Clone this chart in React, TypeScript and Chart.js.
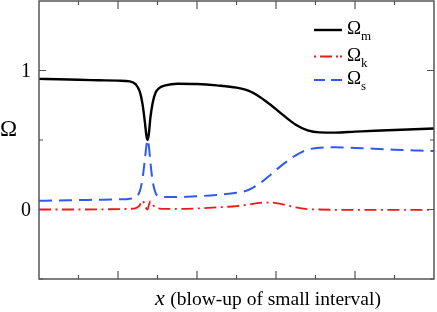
import React, { useEffect, useRef } from "react";
import { Chart, registerables } from "chart.js";

Chart.register(...registerables);

const xs = [0, 0.5, 1, 1.5, 2, 2.3, 2.45, 2.55, 2.62, 2.68, 2.72, 2.75, 2.78, 2.82, 2.88, 2.95, 3.05, 3.2, 3.5, 4, 4.5, 5, 5.3, 5.6, 5.9, 6.2, 6.5, 6.8, 7.1, 7.5, 8, 8.5, 9, 9.5, 10];
const omegaM = [0.94, 0.937, 0.933, 0.93, 0.927, 0.922, 0.9, 0.85, 0.76, 0.63, 0.53, 0.5, 0.54, 0.66, 0.77, 0.84, 0.875, 0.893, 0.905, 0.903, 0.893, 0.877, 0.855, 0.808, 0.745, 0.675, 0.61, 0.57, 0.555, 0.553, 0.56, 0.567, 0.572, 0.577, 0.583];
const omegaK = [0, 0, 0, 0.001, 0.003, 0.005, 0.01, 0.03, 0.065, 0.03, 0.005, 0, 0.03, 0.06, 0.035, 0.015, 0.007, 0.004, 0.004, 0.008, 0.015, 0.025, 0.035, 0.048, 0.05, 0.035, 0.015, 0.003, 0, -0.002, -0.002, -0.002, -0.002, -0.002, -0.002];
const omegaS = [0.063, 0.065, 0.068, 0.07, 0.073, 0.078, 0.09, 0.13, 0.22, 0.36, 0.46, 0.5, 0.46, 0.34, 0.2, 0.12, 0.095, 0.09, 0.09, 0.095, 0.105, 0.12, 0.14, 0.19, 0.26, 0.33, 0.39, 0.43, 0.445, 0.447, 0.443, 0.437, 0.43, 0.425, 0.42];

const xMajorTicks = [2, 4, 6, 8];
const xMinorTicks = [1, 3, 5, 7, 9];
const yMajorTicks = [0, 1];
const yMinorTicks = [-0.5, 0.5];
const yLabels = ["0", "1"];

const RED_DASH = [12, 4.5, 2, 4.5];
const BLUE_DASH = [13, 7];

const legendItems = [
  { sub: "m", color: "#000000", dash: [] as number[], width: 2.4 },
  { sub: "k", color: "#f01818", dash: [2, 4, 12, 4, 2], width: 1.8 },
  { sub: "s", color: "#2f5af0", dash: [11, 6], width: 2 },
];

const SERIF = "'Liberation Serif', 'Times New Roman', serif";

const toPts = (ys: number[]) => xs.map((x, i) => ({ x, y: ys[i] }));

const framePlugin = {
  id: "frame",
  afterDatasetsDraw(chart: any) {
    const { ctx, chartArea: a, scales } = chart;
    const xS = scales.x, yS = scales.y;
    ctx.save();
    ctx.strokeStyle = "#555555";
    ctx.lineWidth = 1.5;
    ctx.setLineDash([]);
    ctx.strokeRect(a.left, a.top, a.right - a.left, a.bottom - a.top);
    ctx.lineWidth = 1.2;
    const vt = (v: number, len: number) => {
      const p = xS.getPixelForValue(v);
      ctx.beginPath();
      ctx.moveTo(p, a.bottom); ctx.lineTo(p, a.bottom - len);
      ctx.moveTo(p, a.top); ctx.lineTo(p, a.top + len);
      ctx.stroke();
    };
    const ht = (v: number, len: number) => {
      const p = yS.getPixelForValue(v);
      ctx.beginPath();
      ctx.moveTo(a.left, p); ctx.lineTo(a.left + len, p);
      ctx.moveTo(a.right, p); ctx.lineTo(a.right - len, p);
      ctx.stroke();
    };
    xMajorTicks.forEach((v) => vt(v, 8));
    xMinorTicks.forEach((v) => vt(v, 4));
    yMajorTicks.forEach((v) => ht(v, 7));
    yMinorTicks.forEach((v) => ht(v, 4));

    // y tick labels
    ctx.fillStyle = "#000";
    ctx.font = `20px ${SERIF}`;
    ctx.textAlign = "right";
    ctx.textBaseline = "middle";
    yMajorTicks.forEach((v, i) => {
      ctx.fillText(yLabels[i], a.left - 8, yS.getPixelForValue(v) + 1);
    });

    // legend
    const lx0 = 314, lx1 = 342;
    const rows = [30, 56.5, 80];
    legendItems.forEach((it, i) => {
      const y = rows[i];
      ctx.strokeStyle = it.color;
      ctx.lineWidth = it.width;
      ctx.setLineDash(it.dash);
      ctx.beginPath();
      ctx.moveTo(lx0, y); ctx.lineTo(lx1, y);
      ctx.stroke();
      ctx.setLineDash([]);
      ctx.fillStyle = "#000";
      ctx.textBaseline = "alphabetic";
      ctx.textAlign = "left";
      ctx.font = `19px ${SERIF}`;
      ctx.fillText("Ω", 347, y + 4);
      const w = ctx.measureText("Ω").width;
      ctx.font = `13px ${SERIF}`;
      ctx.fillText(it.sub, 347 + w, y + 10);
    });

    // axis titles
    ctx.fillStyle = "#000";
    ctx.font = `23px ${SERIF}`;
    ctx.textAlign = "left";
    ctx.textBaseline = "middle";
    ctx.fillText("Ω", 0, 130);

    ctx.textBaseline = "alphabetic";
    ctx.font = `italic 22px ${SERIF}`;
    ctx.fillText("x", 155, 305);
    const xw = ctx.measureText("x ").width;
    ctx.font = `19.5px ${SERIF}`;
    ctx.fillText("(blow-up of small interval)", 155 + xw, 305);
    ctx.restore();
  },
};

export default function App() {
  const ref = useRef<HTMLCanvasElement | null>(null);
  useEffect(() => {
    if (!ref.current) return;
    const chart = new Chart(ref.current, {
      type: "line",
      data: {
        datasets: [
          { label: "Ωm", data: toPts(omegaM), borderColor: "#000000", borderWidth: 2.4, pointRadius: 0, cubicInterpolationMode: "monotone" },
          { label: "Ωk", data: toPts(omegaK), borderColor: "#f01818", borderWidth: 1.8, borderDash: RED_DASH, pointRadius: 0, cubicInterpolationMode: "monotone" },
          { label: "Ωs", data: toPts(omegaS), borderColor: "#2f5af0", borderWidth: 2, borderDash: BLUE_DASH, pointRadius: 0, cubicInterpolationMode: "monotone" },
        ],
      },
      options: {
        animation: false,
        responsive: false,
        maintainAspectRatio: false,
        layout: { padding: { top: 1, right: 3, left: 0, bottom: 0 } },
        plugins: { legend: { display: false }, tooltip: { enabled: false }, title: { display: false } },
        scales: {
          x: {
            type: "linear",
            min: 0,
            max: 10,
            grid: { display: false },
            border: { display: false },
            ticks: { display: false },
            afterFit: (s: any) => { s.height = 33; },
          },
          y: {
            min: -0.5,
            max: 1.5,
            grid: { display: false },
            border: { display: false },
            ticks: { display: false },
            afterFit: (s: any) => { s.width = 39; },
          },
        },
      },
      plugins: [framePlugin],
    });
    return () => chart.destroy();
  }, []);
  return (
    <div style={{ position: "fixed", left: 0, top: 0, width: 437, height: 312, background: "#fff" }}>
      <canvas ref={ref} width={437} height={312} style={{ width: 437, height: 312, display: "block" }} />
    </div>
  );
}
